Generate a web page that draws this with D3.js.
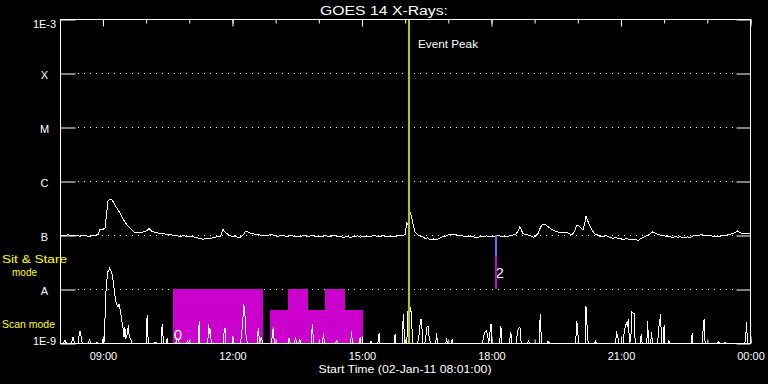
<!DOCTYPE html>
<html><head><meta charset="utf-8">
<script src="https://cdn.jsdelivr.net/npm/d3@7"></script>
<style>
html,body{margin:0;padding:0;background:#000;}
svg{display:block;background:#000;}
text{font-family:"Liberation Sans",Arial,sans-serif;fill:#fff;}
</style></head><body>
<svg id="c" width="768" height="384"></svg>
<script>
// ---------- data ----------
const TITLE = "GOES 14 X-Rays:";
const X_TITLE = "Start Time (02-Jan-11 08:01:00)";
const START_H = 8 + 1/60, END_H = 24;          // 02-Jan-11 08:01 .. 03-Jan-11 00:00
const Y_TICK_VALUES = [1e-9, 1e-8, 1e-7, 1e-6, 1e-5, 1e-4, 1e-3];
const Y_TICK_LABELS = ["1E-9", "A", "B", "C", "M", "X", "1E-3"];
const MODE_TEXT = [["Sit & Stare", "mode"], ["Scan mode"]];
const EVENT_PEAK_H = 16.10;
const EVENT_LABEL = "Event Peak";

// long channel: [hour, flux]
const LONG_CHANNEL = [
[8.02,1.03e-7],[8.06,9.8e-8],[8.10,1.0e-7],[8.15,9.6e-8],[8.20,1.02e-7],[8.25,9.7e-8],[8.30,9.6e-8],[8.35,1.0e-7],[8.40,1.0e-7],[8.44,9.6e-8],[8.48,9.5e-8],[8.53,9.9e-8],[8.58,9.9e-8],[8.64,9.6e-8],[8.71,9.4e-8],[8.76,9.7e-8],[8.80,9.8e-8],[8.85,1.0e-7],[8.90,1.03e-7],[8.94,1.28e-7],[9.00,1.25e-7],[9.06,1.35e-7],[9.10,2.6e-7],[9.13,4.3e-7],[9.17,4.58e-7],[9.22,4.5e-7],[9.29,3.6e-7],[9.35,3.0e-7],[9.41,2.55e-7],[9.46,2.1e-7],[9.52,1.74e-7],[9.58,1.5e-7],[9.64,1.35e-7],[9.70,1.2e-7],[9.75,1.10e-7],[9.81,1.12e-7],[9.87,1.10e-7],[9.93,1.13e-7],[9.99,1.15e-7],[10.05,1.25e-7],[10.08,1.35e-7],[10.12,1.2e-7],[10.17,1.15e-7],[10.25,1.1e-7],[10.33,1.07e-7],[10.40,1.08e-7],[10.48,1.02e-7],[10.56,1.03e-7],[10.63,9.9e-8],[10.70,9.8e-8],[10.76,9.5e-8],[10.80,9.3e-8],[10.85,9.6e-8],[10.90,9.7e-8],[10.96,9.2e-8],[11.03,9.3e-8],[11.09,9.5e-8],[11.15,9.0e-8],[11.22,8.8e-8],[11.28,8.5e-8],[11.33,8.3e-8],[11.40,8.6e-8],[11.45,8.8e-8],[11.50,8.6e-8],[11.56,8.9e-8],[11.63,9.2e-8],[11.72,9.3e-8],[11.76,1.05e-7],[11.79,1.28e-7],[11.83,1.15e-7],[11.88,1.07e-7],[11.95,9.8e-8],[12.02,9.3e-8],[12.08,9.6e-8],[12.14,9.0e-8],[12.19,9.1e-8],[12.26,1.0e-7],[12.30,1.12e-7],[12.33,1.19e-7],[12.39,1.1e-7],[12.46,1.07e-7],[12.55,1.02e-7],[12.65,1.0e-7],[12.72,9.6e-8],[12.80,9.7e-8],[12.88,1.01e-7],[12.95,1.0e-7],[13.03,9.5e-8],[13.10,9.6e-8],[13.18,9.9e-8],[13.27,9.3e-8],[13.33,9.6e-8],[13.40,9.7e-8],[13.48,9.3e-8],[13.58,9.3e-8],[13.64,9.8e-8],[13.70,9.8e-8],[13.75,9.4e-8],[13.81,9.6e-8],[13.88,9.9e-8],[13.95,9.2e-8],[14.00,9.5e-8],[14.04,9.6e-8],[14.10,9.3e-8],[14.15,9.9e-8],[14.21,9.5e-8],[14.27,9.3e-8],[14.33,9.8e-8],[14.40,9.7e-8],[14.45,9.3e-8],[14.50,9.6e-8],[14.56,9.0e-8],[14.62,9.2e-8],[14.68,9.5e-8],[14.73,8.9e-8],[14.79,9.2e-8],[14.85,9.4e-8],[14.91,9.6e-8],[14.97,9.1e-8],[15.03,9.4e-8],[15.08,9.6e-8],[15.14,9.2e-8],[15.20,9.3e-8],[15.26,9.7e-8],[15.32,9.7e-8],[15.38,9.4e-8],[15.43,9.3e-8],[15.49,9.8e-8],[15.55,9.5e-8],[15.60,9.3e-8],[15.66,9.6e-8],[15.72,9.4e-8],[15.78,9.3e-8],[15.84,9.8e-8],[15.89,9.6e-8],[15.95,9.7e-8],[16.01,1.03e-7],[16.05,1.65e-7],[16.08,1.55e-7],[16.12,2.70e-7],[16.16,2.18e-7],[16.20,1.5e-7],[16.24,1.15e-7],[16.28,1.05e-7],[16.31,1.0e-7],[16.36,9.5e-8],[16.42,9.3e-8],[16.48,8.6e-8],[16.53,8.9e-8],[16.59,8.1e-8],[16.66,8.5e-8],[16.70,8.1e-8],[16.75,8.3e-8],[16.82,8.8e-8],[16.89,9.3e-8],[16.96,9.6e-8],[17.05,1.03e-7],[17.12,1.03e-7],[17.21,1.0e-7],[17.28,9.6e-8],[17.35,9.6e-8],[17.40,9.2e-8],[17.45,9.2e-8],[17.52,9.6e-8],[17.58,9.3e-8],[17.64,9.1e-8],[17.70,9.0e-8],[17.76,9.4e-8],[17.82,9.3e-8],[17.90,9.6e-8],[17.98,9.3e-8],[18.06,9.5e-8],[18.14,9.6e-8],[18.20,9.6e-8],[18.25,9.2e-8],[18.31,9.4e-8],[18.37,9.3e-8],[18.44,9.7e-8],[18.51,1.0e-7],[18.58,1.05e-7],[18.63,1.2e-7],[18.67,1.43e-7],[18.71,1.2e-7],[18.74,1.07e-7],[18.80,1.02e-7],[18.86,1.0e-7],[18.93,9.6e-8],[18.98,9.1e-8],[19.02,9.3e-8],[19.09,1.07e-7],[19.14,1.35e-7],[19.18,1.53e-7],[19.25,1.58e-7],[19.31,1.45e-7],[19.37,1.33e-7],[19.45,1.22e-7],[19.53,1.15e-7],[19.60,1.12e-7],[19.67,1.10e-7],[19.75,1.12e-7],[19.82,1.05e-7],[19.88,1.0e-7],[19.94,1.2e-7],[19.99,1.53e-7],[20.06,1.43e-7],[20.13,1.24e-7],[20.17,1.6e-7],[20.20,2.28e-7],[20.25,1.76e-7],[20.30,1.45e-7],[20.34,1.24e-7],[20.41,1.03e-7],[20.47,1.0e-7],[20.52,9.5e-8],[20.60,9.3e-8],[20.65,9.8e-8],[20.70,9.5e-8],[20.76,9.0e-8],[20.83,8.7e-8],[20.89,9.0e-8],[20.95,8.5e-8],[21.00,8.7e-8],[21.06,8.1e-8],[21.12,8.6e-8],[21.17,8.5e-8],[21.22,8.1e-8],[21.30,8.4e-8],[21.36,8.2e-8],[21.41,7.8e-8],[21.47,8.6e-8],[21.52,9.0e-8],[21.57,9.3e-8],[21.63,1.0e-7],[21.69,1.05e-7],[21.75,1.15e-7],[21.82,1.06e-7],[21.87,1.03e-7],[21.92,1.0e-7],[21.98,9.7e-8],[22.05,9.5e-8],[22.10,9.6e-8],[22.15,9.3e-8],[22.22,9.0e-8],[22.28,9.4e-8],[22.33,9.1e-8],[22.38,9.3e-8],[22.44,9.0e-8],[22.50,8.9e-8],[22.55,9.2e-8],[22.61,9.1e-8],[22.67,9.4e-8],[22.73,1.0e-7],[22.80,9.8e-8],[22.86,1.01e-7],[22.91,1.0e-7],[22.97,9.7e-8],[23.02,9.9e-8],[23.07,1.0e-7],[23.13,9.5e-8],[23.20,9.2e-8],[23.25,9.6e-8],[23.30,9.3e-8],[23.36,9.8e-8],[23.42,9.6e-8],[23.48,1.0e-7],[23.54,1.03e-7],[23.60,1.06e-7],[23.66,1.12e-7],[23.72,1.20e-7],[23.77,1.1e-7],[23.81,1.07e-7],[23.87,1.05e-7],[23.93,1.06e-7],[24.00,1.07e-7]
];

// short channel: [hour, flux]
const SHORT_CHANNEL = [
[8.02,1.0e-9],[8.10,1.0e-9],[8.13,1.14e-9],[8.16,1.0e-9],[8.28,1.0e-9],[8.32,1.29e-9],[8.35,1.0e-9],[8.44,1.0e-9],[8.46,1.4e-9],[8.48,1.65e-9],[8.51,1.3e-9],[8.53,1.0e-9],[8.68,1.0e-9],[8.70,1.19e-9],[8.72,1.0e-9],[8.85,1.0e-9],[8.87,1.04e-9],[8.89,1.0e-9],[8.99,1.0e-9],[9.01,1.14e-9],[9.04,1.1e-9],[9.06,3.0e-9],[9.08,8.8e-9],[9.12,2.06e-8],[9.15,2.2e-8],[9.17,2.45e-8],[9.20,2.1e-8],[9.23,1.79e-8],[9.27,1.01e-8],[9.30,6.5e-9],[9.33,5.1e-9],[9.36,4.6e-9],[9.38,5.3e-9],[9.41,4.2e-9],[9.43,3.26e-9],[9.46,2.2e-9],[9.48,1.84e-9],[9.50,1.3e-9],[9.52,1.98e-9],[9.54,1.2e-9],[9.57,1.4e-9],[9.60,2.13e-9],[9.62,1.3e-9],[9.65,1.2e-9],[9.68,1.0e-9],
[10.01,1.0e-9],[10.03,2.8e-9],[10.04,3.26e-9],[10.06,1.0e-9],[10.20,1.0e-9],[10.22,1.04e-9],[10.26,1.0e-9],[10.36,1.0e-9],[10.38,2.0e-9],[10.39,2.22e-9],[10.41,1.0e-9],[10.48,1.0e-9],[10.50,1.24e-9],[10.52,1.0e-9],
[10.70,1.0e-9],[10.74,1.2e-9],[10.78,1.0e-9],[10.95,1.0e-9],[10.97,1.1e-9],[11.00,1.0e-9],[11.22,1.0e-9],[11.24,2.52e-9],[11.26,1.0e-9],[11.44,1.0e-9],[11.46,2.2e-9],[11.48,1.5e-9],[11.50,1.8e-9],[11.52,1.0e-9],[11.80,1.0e-9],[11.82,1.72e-9],[11.84,1.9e-9],[11.86,1.0e-9],[12.00,1.0e-9],[12.02,1.35e-9],[12.04,1.0e-9],[12.20,1.0e-9],[12.22,1.4e-9],[12.25,2.4e-9],[12.27,5.3e-9],[12.29,4.4e-9],[12.31,2.6e-9],[12.33,1.2e-9],[12.36,1.0e-9],[12.58,1.0e-9],[12.61,1.9e-9],[12.64,1.0e-9],[12.68,1.3e-9],[12.71,1.0e-9],
[12.92,1.0e-9],[12.94,1.7e-9],[12.96,1.98e-9],[12.98,1.0e-9],[13.30,1.0e-9],[13.32,1.25e-9],[13.35,1.0e-9],[13.45,1.0e-9],[13.47,1.3e-9],[13.50,1.0e-9],[13.55,1.0e-9],[13.57,1.2e-9],[13.59,1.0e-9],[13.84,1.0e-9],[13.86,2.28e-9],[13.88,1.4e-9],[13.90,1.0e-9],[14.10,1.0e-9],[14.12,1.55e-9],[14.14,1.0e-9],[14.40,1.0e-9],[14.43,1.1e-9],[14.46,1.0e-9],[14.75,1.0e-9],[14.77,1.67e-9],[14.79,1.0e-9],[14.95,1.0e-9],[14.97,1.3e-9],[14.99,1.0e-9],
[15.20,1.0e-9],[15.22,1.1e-9],[15.24,1.0e-9],[15.38,1.0e-9],[15.41,1.55e-9],[15.43,1.0e-9],[15.76,1.0e-9],[15.78,1.49e-9],[15.80,1.0e-9],[15.94,1.0e-9],[15.97,3.49e-9],[16.00,1.0e-9],[16.05,1.0e-9],[16.07,3.0e-9],[16.10,8.2e-9],[16.13,4.0e-9],[16.16,3.75e-9],[16.18,1.0e-9],
[16.30,1.0e-9],[16.34,1.5e-9],[16.36,2.4e-9],[16.38,2.82e-9],[16.40,2.0e-9],[16.42,1.0e-9],[16.47,1.0e-9],[16.50,1.5e-9],[16.52,2.0e-9],[16.55,1.98e-9],[16.57,1.2e-9],[16.60,1.0e-9],[16.72,1.0e-9],[16.74,1.53e-9],[16.76,1.0e-9],[16.95,1.0e-9],[16.97,1.15e-9],[17.00,1.0e-9],[17.08,1.0e-9],[17.10,1.15e-9],[17.12,1.0e-9],
[17.80,1.0e-9],[17.84,1.4e-9],[17.86,1.6e-9],[17.90,1.7e-9],[17.95,1.0e-9],[17.98,1.7e-9],[18.00,2.28e-9],[18.02,1.0e-9],[18.20,1.0e-9],[18.23,2.04e-9],[18.25,1.0e-9],[18.42,1.0e-9],[18.44,1.2e-9],[18.46,1.6e-9],[18.48,1.0e-9],[18.58,1.0e-9],[18.62,1.7e-9],[18.65,1.9e-9],[18.67,1.98e-9],[18.70,1.0e-9],[18.85,1.0e-9],[18.87,1.08e-9],[18.90,1.0e-9],
[19.12,1.0e-9],[19.14,3.49e-9],[19.17,1.0e-9],[19.30,1.0e-9],[19.32,1.08e-9],[19.35,1.0e-9],[19.96,1.0e-9],[19.99,2.52e-9],[20.02,1.3e-9],[20.04,1.0e-9],[20.18,1.0e-9],[20.20,4.78e-9],[20.22,2.4e-9],[20.25,1.0e-9],[20.40,1.0e-9],[20.42,1.07e-9],[20.44,1.0e-9],
[20.88,1.0e-9],[20.91,1.53e-9],[20.93,1.4e-9],[20.96,1.0e-9],[21.06,1.0e-9],[21.09,1.7e-9],[21.12,2.1e-9],[21.14,2.45e-9],[21.16,2.0e-9],[21.18,2.82e-9],[21.21,1.0e-9],[21.24,1.2e-9],[21.26,3.75e-9],[21.29,3.6e-9],[21.32,3.49e-9],[21.34,1.0e-9],[21.46,1.0e-9],[21.48,1.49e-9],[21.50,1.0e-9],[21.61,1.0e-9],[21.63,2.52e-9],[21.65,1.0e-9],[21.70,1.0e-9],[21.72,1.6e-9],[21.74,1.0e-9],[21.86,1.0e-9],[21.89,2.0e-9],[21.91,2.6e-9],[21.93,3.49e-9],[21.95,1.0e-9],[21.99,1.0e-9],[22.01,2.13e-9],[22.03,1.0e-9],[22.10,1.0e-9],[22.12,1.1e-9],[22.14,1.0e-9],
[22.64,1.0e-9],[22.66,1.53e-9],[22.68,1.0e-9],[22.90,1.0e-9],[22.92,2.4e-9],[22.94,2.75e-9],[22.96,1.0e-9],[23.25,1.0e-9],[23.27,1.04e-9],[23.29,1.0e-9],[23.40,1.0e-9],[23.42,1.04e-9],[23.44,1.0e-9],[23.88,1.0e-9],[23.90,1.2e-9],[23.92,2.45e-9],[23.94,1.0e-9],[23.97,1.0e-9],[24.00,1.0e-9]
];

// observing-mode blocks: [start hour, end hour, level]
const MODE_BLOCKS = [
[10.63, 12.72, 1e-8],
[12.88, 13.30, 4.1e-9],
[13.30, 13.76, 1e-8],
[13.76, 14.15, 4.1e-9],
[14.15, 14.62, 1e-8],
[14.62, 15.04, 4.1e-9]
];
// event marker: [hour, top, middle, bottom]
const EVENT_MARKER = [18.12, 1e-7, 4.1e-8, 1e-8];
// block labels: [text, hour, flux]
const BLOCK_LABELS = [["0", 10.75, 1.15e-9], ["2", 18.20, 1.6e-8]];

// ---------- chart ----------
const M = {left: 60, right: 750, top: 19, bottom: 343};
const svg = d3.select("#c");
const base = Date.UTC(2011, 0, 2);
const toDate = h => new Date(base + h * 3600000);

const x = d3.scaleUtc().domain([toDate(START_H), toDate(END_H)]).range([M.left, M.right]);
const y = d3.scaleLog().domain([1e-9, 1e-3]).range([M.bottom, M.top]);

// gridlines
svg.append("g").selectAll("line")
  .data(Y_TICK_VALUES.slice(1, -1))
  .join("line")
  .attr("x1", M.left + 18).attr("x2", M.right - 14)
  .attr("y1", d => Math.round(y(d)) + 0.5).attr("y2", d => Math.round(y(d)) + 0.5)
  .attr("stroke", "#fff").attr("stroke-width", 1).attr("stroke-dasharray", "1,5");

// mode blocks
svg.append("g").selectAll("rect")
  .data(MODE_BLOCKS)
  .join("rect")
  .attr("x", d => x(toDate(d[0])))
  .attr("width", d => x(toDate(d[1])) - x(toDate(d[0])))
  .attr("y", d => y(d[2]))
  .attr("height", d => y(1e-9) - y(d[2]))
  .attr("fill", "#cc00cc")
  .attr("shape-rendering", "crispEdges");

// curves
const line = d3.line().x(d => x(toDate(d[0]))).y(d => y(Math.max(d[1], 1e-9)));
svg.append("path").datum(LONG_CHANNEL).attr("d", line)
  .attr("fill", "none").attr("stroke", "#fff").attr("stroke-width", 1)
  .attr("shape-rendering", "crispEdges");
svg.append("path").datum(SHORT_CHANNEL).attr("d", line)
  .attr("fill", "none").attr("stroke", "#fff").attr("stroke-width", 1)
  .attr("shape-rendering", "crispEdges");

// block labels
svg.append("g").selectAll("text")
  .data(BLOCK_LABELS)
  .join("text")
  .attr("x", d => x(toDate(d[1])))
  .attr("y", d => y(d[2]))
  .attr("text-anchor", "middle")
  .attr("font-size", 15)
  .attr("font-weight", 300)
  .text(d => d[0]);

// event marker
const mx = Math.round(x(toDate(EVENT_MARKER[0])));
svg.append("line").attr("x1", mx).attr("x2", mx)
  .attr("y1", y(EVENT_MARKER[1])).attr("y2", y(EVENT_MARKER[2]))
  .attr("stroke", "#6a6aff").attr("stroke-width", 2);
svg.append("line").attr("x1", mx).attr("x2", mx)
  .attr("y1", y(EVENT_MARKER[2])).attr("y2", y(EVENT_MARKER[3]))
  .attr("stroke", "#cc00cc").attr("stroke-width", 2);

// event peak line
const px = Math.round(x(toDate(EVENT_PEAK_H)));
svg.append("line").attr("x1", px).attr("x2", px)
  .attr("y1", M.top).attr("y2", M.bottom)
  .attr("stroke", "#a0d000").attr("stroke-width", 2);
svg.append("text").attr("x", px + 9).attr("y", 48)
  .attr("font-size", 11).attr("textLength", 60).attr("lengthAdjust", "spacingAndGlyphs")
  .text(EVENT_LABEL);

// frame
svg.append("rect").attr("x", M.left + 0.5).attr("y", M.top + 0.5)
  .attr("width", M.right - M.left).attr("height", M.bottom - M.top)
  .attr("fill", "none").attr("stroke", "#fff").attr("stroke-width", 1);

// left axis
const gl = svg.append("g").attr("transform", `translate(${M.left + 0.5},0.5)`)
  .call(d3.axisLeft(y).tickValues(Y_TICK_VALUES).tickFormat((d, i) => Y_TICK_LABELS[i]).tickSize(-15).tickPadding(0));
gl.select(".domain").remove();
gl.selectAll("line").attr("stroke", "#fff");
gl.selectAll("text")
  .attr("x", -16).attr("text-anchor", "middle").attr("fill", "#fff")
  .attr("font-size", 11).attr("font-family", "Liberation Sans, Arial, sans-serif")
  .attr("dy", (d, i) => i === 0 ? "0.05em" : (i === Y_TICK_VALUES.length - 1 ? "0.75em" : "0.42em"));

// right axis
const gr = svg.append("g").attr("transform", `translate(${M.right + 0.5},0.5)`)
  .call(d3.axisRight(y).tickValues(Y_TICK_VALUES).tickFormat("").tickSize(-14));
gr.select(".domain").remove();
gr.selectAll("line").attr("stroke", "#fff");

// top / bottom axes
function hourAxis(axisFn, yPos, every, size, labels) {
  const g = svg.append("g").attr("transform", `translate(0.5,${yPos + 0.5})`)
    .call(axisFn(x).ticks(d3.utcHour.every(every)).tickSize(size)
      .tickFormat(labels ? d3.utcFormat("%H:%M") : ""));
  g.select(".domain").remove();
  g.selectAll("line").attr("stroke", "#fff");
  return g;
}
hourAxis(d3.axisTop, M.top, 1, -4, false);
hourAxis(d3.axisTop, M.top, 3, -7, false);
hourAxis(d3.axisBottom, M.bottom, 1, -4, false);
const gb = hourAxis(d3.axisBottom, M.bottom, 3, -7, true);
gb.selectAll("text").attr("y", 16).attr("dy", 0).attr("fill", "#fff")
  .attr("font-size", 11).attr("font-family", "Liberation Sans, Arial, sans-serif");

// titles
svg.append("text").attr("x", 384).attr("y", 15).attr("text-anchor", "middle")
  .attr("font-size", 12).attr("textLength", 128).attr("lengthAdjust", "spacingAndGlyphs")
  .text(TITLE);
svg.append("text").attr("x", (M.left + M.right) / 2).attr("y", 373).attr("text-anchor", "middle")
  .attr("font-size", 11).attr("textLength", 173).attr("lengthAdjust", "spacingAndGlyphs")
  .text(X_TITLE);

// mode labels (yellow)
const ml = svg.append("g").attr("font-size", 11);
ml.append("text").attr("x", 2).attr("y", 263).style("fill", "#ffff00")
  .attr("textLength", 65).attr("lengthAdjust", "spacingAndGlyphs").text(MODE_TEXT[0][0]);
ml.append("text").attr("x", 12).attr("y", 276).style("fill", "#ffff00")
  .attr("textLength", 25).attr("lengthAdjust", "spacingAndGlyphs").text(MODE_TEXT[0][1]);
ml.append("text").attr("x", 2).attr("y", 328).style("fill", "#ffff00")
  .attr("textLength", 53).attr("lengthAdjust", "spacingAndGlyphs").text(MODE_TEXT[1][0]);
</script>
</body></html>
